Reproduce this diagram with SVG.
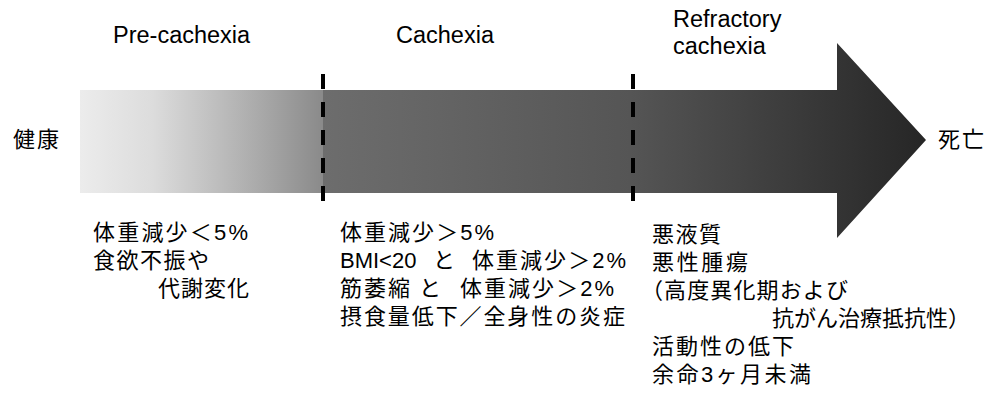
<svg xmlns="http://www.w3.org/2000/svg" width="985" height="394" viewBox="0 0 985 394">
  <defs>
    <linearGradient id="gPre" gradientUnits="userSpaceOnUse" x1="80" y1="0" x2="323" y2="0">
      <stop offset="0" stop-color="#ececec"/>
      <stop offset="0.3" stop-color="#dcdcdc"/>
      <stop offset="0.65" stop-color="#b4b4b4"/>
      <stop offset="1" stop-color="#8a8a8a"/>
    </linearGradient>
    <linearGradient id="gMain" gradientUnits="userSpaceOnUse" x1="323" y1="0" x2="926" y2="0">
      <stop offset="0" stop-color="#6d6d6d"/>
      <stop offset="0.51" stop-color="#555555"/>
      <stop offset="1" stop-color="#262626"/>
    </linearGradient>
  </defs>
  <style>
    .t { font-family: "Liberation Sans", "Noto Sans CJK JP", sans-serif; fill: #000; }
    .title { font-size: 23.5px; }
    .body { font-size: 22px; }
    .div { stroke: #000; stroke-width: 4; stroke-dasharray: 15 13; fill: none; }
  </style>
  <rect width="985" height="394" fill="#ffffff"/>

  <g id="arrow">
    <rect x="80" y="90" width="243" height="103" fill="url(#gPre)"/>
    <polygon points="323,90 837,90 837,43 926,140 837,238 837,193 323,193" fill="url(#gMain)"/>
  </g>

  <g id="connectors">
    <line class="div" x1="323" y1="74" x2="323" y2="203"/>
    <line class="div" x1="633" y1="74" x2="633" y2="203"/>
  </g>

  <g id="start">
    <text class="t body" x="13" y="147" textLength="46" lengthAdjust="spacing">健康</text>
  </g>
  <g id="end">
    <text class="t body" x="938" y="147" textLength="46" lengthAdjust="spacing">死亡</text>
  </g>

  <g id="pre-cachexia">
    <text class="t title" x="113" y="43">Pre-cachexia</text>
    <text class="t body" x="93" y="240" textLength="155" lengthAdjust="spacing">体重減少＜5%</text>
    <text class="t body" x="93" y="268" textLength="116" lengthAdjust="spacing">食欲不振や</text>
    <text class="t body" x="158" y="296" textLength="91" lengthAdjust="spacing">代謝変化</text>
  </g>

  <g id="cachexia">
    <text class="t title" x="396" y="43">Cachexia</text>
    <text class="t body" x="340" y="240" textLength="154" lengthAdjust="spacing">体重減少＞5%</text>
    <text class="t body" y="268"><tspan x="340">BMI&lt;20</tspan><tspan x="433">と</tspan><tspan x="472" textLength="154" lengthAdjust="spacing">体重減少＞2%</tspan></text>
    <text class="t body" y="296"><tspan x="340" textLength="70" lengthAdjust="spacing">筋萎縮</tspan><tspan x="419">と</tspan><tspan x="460" textLength="154" lengthAdjust="spacing">体重減少＞2%</tspan></text>
    <text class="t body" x="340" y="324" textLength="285" lengthAdjust="spacing">摂食量低下／全身性の炎症</text>
  </g>

  <g id="refractory-cachexia">
    <text class="t title" x="673" y="27">Refractory</text>
    <text class="t title" x="673" y="54">cachexia</text>
    <text class="t body" x="652" y="242" textLength="69" lengthAdjust="spacing">悪液質</text>
    <text class="t body" x="652" y="270" textLength="96" lengthAdjust="spacing">悪性腫瘍</text>
    <text class="t body" x="641" y="298" textLength="207" lengthAdjust="spacing">（高度異化期および</text>
    <text class="t body" x="772" y="326">抗がん治療抵抗性）</text>
    <text class="t body" x="652" y="354" textLength="142" lengthAdjust="spacing">活動性の低下</text>
    <text class="t body" x="652" y="382" textLength="159" lengthAdjust="spacing">余命3ヶ月未満</text>
  </g>
</svg>
